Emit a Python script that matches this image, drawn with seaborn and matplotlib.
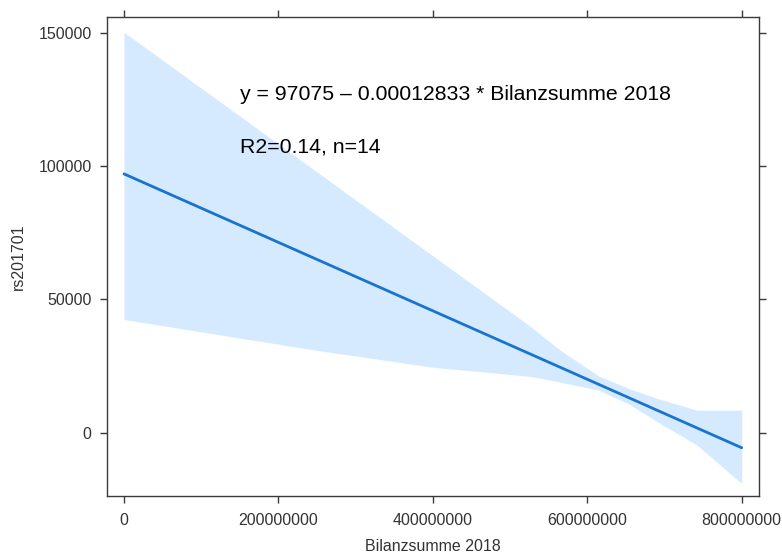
import numpy as np
import pandas as pd
import matplotlib
matplotlib.use("Agg")
import matplotlib.pyplot as plt
import seaborn as sns

# ---- data ----
fit_x = [0, 800e6]
fit_y = [97075, -5589]

band_x = [0, 250e6, 400e6, 525e6, 565e6, 615e6, 655e6, 690e6, 742e6, 800e6]
band_upper = [150200, 97800, 66400, 40200, 31000, 21300, 16500, 12980, 8490, 8490]
band_lower = [42500, 30900, 24600, 21200, 19000, 16000, 10600, 4300, -4600, -19000]

x_ticks = [0, 200000000, 400000000, 600000000, 800000000]
x_ticklabels = ["0", "200000000", "400000000", "600000000", "800000000"]
y_ticks = [0, 50000, 100000, 150000]
y_ticklabels = ["0", "50000", "100000", "150000"]

eq_text = "y = 97075 \u2013 0.00012833 * Bilanzsumme 2018"
r2_text = "R2=0.14, n=14"
x_label = "Bilanzsumme 2018"
y_label = "rs201701"

# ---- style ----
sns.set_theme(style="white")
plt.rcParams["font.family"] = ["Liberation Sans", "DejaVu Sans"]

fig = plt.figure(figsize=(7.82, 5.56), dpi=100)
ax = fig.add_axes([0.1368, 0.1079, 0.8334, 0.8624])

ax.fill_between(band_x, band_lower, band_upper, color="#0080ff", alpha=0.16,
                linewidth=0)

df = pd.DataFrame({"x": fit_x, "y": fit_y})
sns.lineplot(data=df, x="x", y="y", ax=ax, color="#1874CD", linewidth=2)

ax.set_xlim(-22e6, 822e6)
ax.set_ylim(-23670, 156060)

ax.set_xticks(x_ticks)
ax.set_xticklabels(x_ticklabels)
ax.set_yticks(y_ticks)
ax.set_yticklabels(y_ticklabels)

for s in ax.spines.values():
    s.set_visible(True)
    s.set_color("#3a3a3a")
    s.set_linewidth(1.0)

ax.tick_params(axis="both", which="major", direction="out", length=5, width=1,
               color="#3a3a3a", labelsize=11.5, labelcolor="#333333",
               bottom=True, left=True, top=True, right=True,
               labeltop=False, labelright=False)
ax.tick_params(axis="x", pad=7)
ax.tick_params(axis="y", pad=6)

ax.set_xlabel(x_label, fontsize=11.5, color="#333333", labelpad=8.5)
ax.set_ylabel(y_label, fontsize=11.5, color="#333333", labelpad=9)

ax.text(0.204, 0.826, eq_text, transform=ax.transAxes, fontsize=15.3,
        va="baseline", ha="left", color="black")
ax.text(0.204, 0.7174, r2_text, transform=ax.transAxes, fontsize=15.3,
        va="baseline", ha="left", color="black")

fig.savefig("out.png", dpi=100)
